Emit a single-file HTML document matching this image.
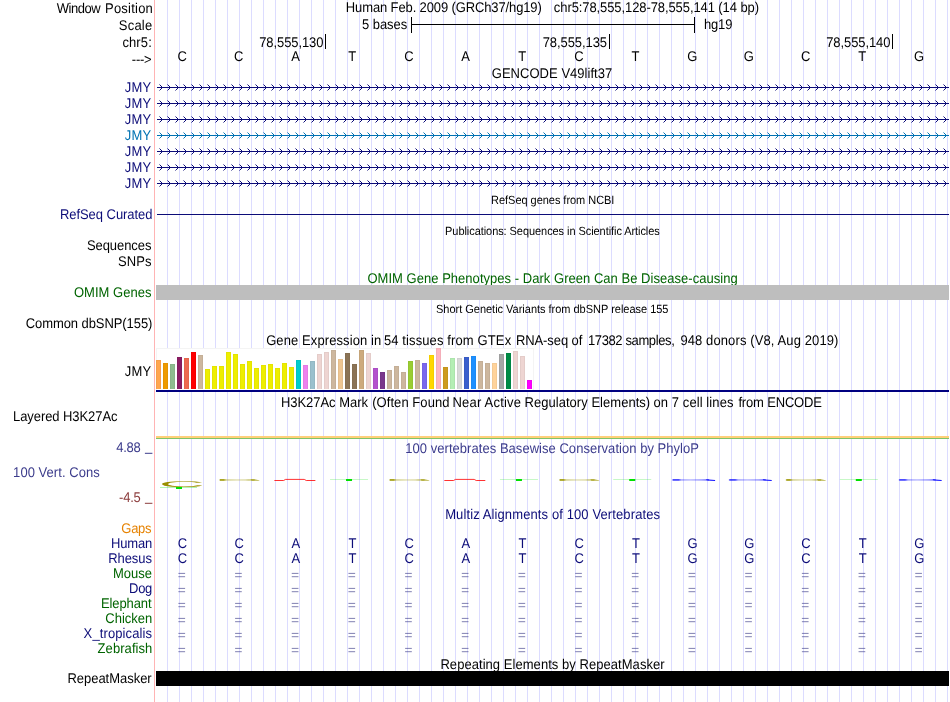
<!DOCTYPE html>
<html><head><meta charset="utf-8"><title>UCSC Genome Browser</title>
<style>html,body{margin:0;padding:0;background:#fff;overflow:hidden}body{width:950px;height:702px;position:relative;font-family:"Liberation Sans",sans-serif}</style></head>
<body>
<svg width="950" height="702" viewBox="0 0 950 702" font-family="'Liberation Sans', sans-serif" text-rendering="geometricPrecision" style="position:absolute;left:0;top:0;display:block;will-change:transform">
<rect x="0" y="0" width="950" height="702" fill="#fff"/>
<g shape-rendering="crispEdges">
<rect x="167" y="0" width="1" height="702" fill="#dcdcff"/>
<rect x="179" y="0" width="1" height="702" fill="#dcdcff"/>
<rect x="191" y="0" width="1" height="702" fill="#dcdcff"/>
<rect x="203" y="0" width="1" height="702" fill="#dcdcff"/>
<rect x="215" y="0" width="1" height="702" fill="#dcdcff"/>
<rect x="227" y="0" width="1" height="702" fill="#dcdcff"/>
<rect x="239" y="0" width="1" height="702" fill="#dcdcff"/>
<rect x="251" y="0" width="1" height="702" fill="#dcdcff"/>
<rect x="263" y="0" width="1" height="702" fill="#dcdcff"/>
<rect x="275" y="0" width="1" height="702" fill="#dcdcff"/>
<rect x="287" y="0" width="1" height="702" fill="#dcdcff"/>
<rect x="299" y="0" width="1" height="702" fill="#dcdcff"/>
<rect x="311" y="0" width="1" height="702" fill="#dcdcff"/>
<rect x="323" y="0" width="1" height="702" fill="#dcdcff"/>
<rect x="335" y="0" width="1" height="702" fill="#dcdcff"/>
<rect x="347" y="0" width="1" height="702" fill="#dcdcff"/>
<rect x="359" y="0" width="1" height="702" fill="#dcdcff"/>
<rect x="371" y="0" width="1" height="702" fill="#dcdcff"/>
<rect x="383" y="0" width="1" height="702" fill="#dcdcff"/>
<rect x="395" y="0" width="1" height="702" fill="#dcdcff"/>
<rect x="407" y="0" width="1" height="702" fill="#dcdcff"/>
<rect x="419" y="0" width="1" height="702" fill="#dcdcff"/>
<rect x="431" y="0" width="1" height="702" fill="#dcdcff"/>
<rect x="443" y="0" width="1" height="702" fill="#dcdcff"/>
<rect x="455" y="0" width="1" height="702" fill="#dcdcff"/>
<rect x="467" y="0" width="1" height="702" fill="#dcdcff"/>
<rect x="479" y="0" width="1" height="702" fill="#dcdcff"/>
<rect x="491" y="0" width="1" height="702" fill="#dcdcff"/>
<rect x="503" y="0" width="1" height="702" fill="#dcdcff"/>
<rect x="515" y="0" width="1" height="702" fill="#dcdcff"/>
<rect x="527" y="0" width="1" height="702" fill="#dcdcff"/>
<rect x="539" y="0" width="1" height="702" fill="#dcdcff"/>
<rect x="551" y="0" width="1" height="702" fill="#dcdcff"/>
<rect x="563" y="0" width="1" height="702" fill="#dcdcff"/>
<rect x="575" y="0" width="1" height="702" fill="#dcdcff"/>
<rect x="587" y="0" width="1" height="702" fill="#dcdcff"/>
<rect x="599" y="0" width="1" height="702" fill="#dcdcff"/>
<rect x="611" y="0" width="1" height="702" fill="#dcdcff"/>
<rect x="623" y="0" width="1" height="702" fill="#dcdcff"/>
<rect x="635" y="0" width="1" height="702" fill="#dcdcff"/>
<rect x="647" y="0" width="1" height="702" fill="#dcdcff"/>
<rect x="659" y="0" width="1" height="702" fill="#dcdcff"/>
<rect x="671" y="0" width="1" height="702" fill="#dcdcff"/>
<rect x="683" y="0" width="1" height="702" fill="#dcdcff"/>
<rect x="695" y="0" width="1" height="702" fill="#dcdcff"/>
<rect x="707" y="0" width="1" height="702" fill="#dcdcff"/>
<rect x="719" y="0" width="1" height="702" fill="#dcdcff"/>
<rect x="731" y="0" width="1" height="702" fill="#dcdcff"/>
<rect x="743" y="0" width="1" height="702" fill="#dcdcff"/>
<rect x="755" y="0" width="1" height="702" fill="#dcdcff"/>
<rect x="767" y="0" width="1" height="702" fill="#dcdcff"/>
<rect x="779" y="0" width="1" height="702" fill="#dcdcff"/>
<rect x="791" y="0" width="1" height="702" fill="#dcdcff"/>
<rect x="803" y="0" width="1" height="702" fill="#dcdcff"/>
<rect x="815" y="0" width="1" height="702" fill="#dcdcff"/>
<rect x="827" y="0" width="1" height="702" fill="#dcdcff"/>
<rect x="839" y="0" width="1" height="702" fill="#dcdcff"/>
<rect x="851" y="0" width="1" height="702" fill="#dcdcff"/>
<rect x="863" y="0" width="1" height="702" fill="#dcdcff"/>
<rect x="875" y="0" width="1" height="702" fill="#dcdcff"/>
<rect x="887" y="0" width="1" height="702" fill="#dcdcff"/>
<rect x="899" y="0" width="1" height="702" fill="#dcdcff"/>
<rect x="911" y="0" width="1" height="702" fill="#dcdcff"/>
<rect x="923" y="0" width="1" height="702" fill="#dcdcff"/>
<rect x="935" y="0" width="1" height="702" fill="#dcdcff"/>
<rect x="947" y="0" width="1" height="702" fill="#dcdcff"/>
<rect x="154" y="0" width="1" height="702" fill="#ffb4b4"/>
</g>
<text transform="translate(56.64,13) scale(1,1.08)" font-size="13" fill="#000" textLength="44.03" lengthAdjust="spacing" xml:space="preserve">Window</text>
<text transform="translate(105.03,13) scale(1,1.08)" font-size="13" fill="#000" textLength="47.81" lengthAdjust="spacing" xml:space="preserve">Position</text>
<text transform="translate(118.81,30) scale(1,1.08)" font-size="13" fill="#000" textLength="33.37" lengthAdjust="spacing" xml:space="preserve">Scale</text>
<text transform="translate(122.45,47) scale(1,1.08)" font-size="13" fill="#000" textLength="29.34" lengthAdjust="spacing" xml:space="preserve">chr5:</text>
<text transform="translate(131.82,64) scale(1,1.08)" font-size="13" fill="#000" textLength="19.81" lengthAdjust="spacing" xml:space="preserve">---&gt;</text>
<text transform="translate(345.83,12) scale(1,1.08)" font-size="13" fill="#000" textLength="195.97" lengthAdjust="spacing" xml:space="preserve">Human Feb. 2009 (GRCh37/hg19)</text>
<text transform="translate(553.85,12) scale(1,1.08)" font-size="13" fill="#000" textLength="205.16" lengthAdjust="spacing" xml:space="preserve">chr5:78,555,128-78,555,141 (14 bp)</text>
<text transform="translate(361.98,29) scale(1,1.08)" font-size="13" fill="#000" textLength="45.19" lengthAdjust="spacing" xml:space="preserve">5 bases</text>
<text transform="translate(704.00,29) scale(1,1.08)" font-size="13" fill="#000" textLength="28.42" lengthAdjust="spacing" xml:space="preserve">hg19</text>
<g shape-rendering="crispEdges" fill="#000">
<rect x="411" y="17" width="1" height="16" fill="#000"/>
<rect x="694" y="17" width="1" height="16" fill="#000"/>
<rect x="411" y="24" width="284" height="1" fill="#000"/>
<rect x="325" y="34" width="1" height="15" fill="#000"/>
<rect x="609" y="34" width="1" height="15" fill="#000"/>
<rect x="892" y="34" width="1" height="15" fill="#000"/>
</g>
<text transform="translate(259.23,47) scale(1,1.08)" font-size="13" fill="#000" textLength="64.27" lengthAdjust="spacing" xml:space="preserve">78,555,130</text>
<text transform="translate(542.73,47) scale(1,1.08)" font-size="13" fill="#000" textLength="64.31" lengthAdjust="spacing" xml:space="preserve">78,555,135</text>
<text transform="translate(826.23,47) scale(1,1.08)" font-size="13" fill="#000" textLength="64.27" lengthAdjust="spacing" xml:space="preserve">78,555,140</text>
<text transform="translate(182.10,61) scale(1,1.08)" font-size="13" fill="#000" text-anchor="middle">C</text>
<text transform="translate(238.78,61) scale(1,1.08)" font-size="13" fill="#000" text-anchor="middle">C</text>
<text transform="translate(295.46,61) scale(1,1.08)" font-size="13" fill="#000" text-anchor="middle">A</text>
<text transform="translate(352.14,61) scale(1,1.08)" font-size="13" fill="#000" text-anchor="middle">T</text>
<text transform="translate(408.82,61) scale(1,1.08)" font-size="13" fill="#000" text-anchor="middle">C</text>
<text transform="translate(465.50,61) scale(1,1.08)" font-size="13" fill="#000" text-anchor="middle">A</text>
<text transform="translate(522.18,61) scale(1,1.08)" font-size="13" fill="#000" text-anchor="middle">T</text>
<text transform="translate(578.86,61) scale(1,1.08)" font-size="13" fill="#000" text-anchor="middle">C</text>
<text transform="translate(635.54,61) scale(1,1.08)" font-size="13" fill="#000" text-anchor="middle">T</text>
<text transform="translate(692.22,61) scale(1,1.08)" font-size="13" fill="#000" text-anchor="middle">G</text>
<text transform="translate(748.90,61) scale(1,1.08)" font-size="13" fill="#000" text-anchor="middle">G</text>
<text transform="translate(805.58,61) scale(1,1.08)" font-size="13" fill="#000" text-anchor="middle">C</text>
<text transform="translate(862.26,61) scale(1,1.08)" font-size="13" fill="#000" text-anchor="middle">T</text>
<text transform="translate(918.94,61) scale(1,1.08)" font-size="13" fill="#000" text-anchor="middle">G</text>
<text transform="translate(491.75,78) scale(1,1.08)" font-size="13" fill="#000" textLength="120.51" lengthAdjust="spacing" xml:space="preserve">GENCODE V49lift37</text>
<text transform="translate(124.80,92) scale(1,1.08)" font-size="13" fill="#0c0c78" textLength="26.49" lengthAdjust="spacing" xml:space="preserve">JMY</text>
<rect x="157" y="87" width="792" height="1" fill="#0c0c78" shape-rendering="crispEdges"/>
<path d="M159.5 84.5L162.5 87.5L159.5 90.5M167.5 84.5L170.5 87.5L167.5 90.5M175.5 84.5L178.5 87.5L175.5 90.5M183.5 84.5L186.5 87.5L183.5 90.5M191.5 84.5L194.5 87.5L191.5 90.5M199.5 84.5L202.5 87.5L199.5 90.5M207.5 84.5L210.5 87.5L207.5 90.5M215.5 84.5L218.5 87.5L215.5 90.5M223.5 84.5L226.5 87.5L223.5 90.5M231.5 84.5L234.5 87.5L231.5 90.5M239.5 84.5L242.5 87.5L239.5 90.5M247.5 84.5L250.5 87.5L247.5 90.5M255.5 84.5L258.5 87.5L255.5 90.5M263.5 84.5L266.5 87.5L263.5 90.5M271.5 84.5L274.5 87.5L271.5 90.5M279.5 84.5L282.5 87.5L279.5 90.5M287.5 84.5L290.5 87.5L287.5 90.5M295.5 84.5L298.5 87.5L295.5 90.5M303.5 84.5L306.5 87.5L303.5 90.5M311.5 84.5L314.5 87.5L311.5 90.5M319.5 84.5L322.5 87.5L319.5 90.5M327.5 84.5L330.5 87.5L327.5 90.5M335.5 84.5L338.5 87.5L335.5 90.5M343.5 84.5L346.5 87.5L343.5 90.5M351.5 84.5L354.5 87.5L351.5 90.5M359.5 84.5L362.5 87.5L359.5 90.5M367.5 84.5L370.5 87.5L367.5 90.5M375.5 84.5L378.5 87.5L375.5 90.5M383.5 84.5L386.5 87.5L383.5 90.5M391.5 84.5L394.5 87.5L391.5 90.5M399.5 84.5L402.5 87.5L399.5 90.5M407.5 84.5L410.5 87.5L407.5 90.5M415.5 84.5L418.5 87.5L415.5 90.5M423.5 84.5L426.5 87.5L423.5 90.5M431.5 84.5L434.5 87.5L431.5 90.5M439.5 84.5L442.5 87.5L439.5 90.5M447.5 84.5L450.5 87.5L447.5 90.5M455.5 84.5L458.5 87.5L455.5 90.5M463.5 84.5L466.5 87.5L463.5 90.5M471.5 84.5L474.5 87.5L471.5 90.5M479.5 84.5L482.5 87.5L479.5 90.5M487.5 84.5L490.5 87.5L487.5 90.5M495.5 84.5L498.5 87.5L495.5 90.5M503.5 84.5L506.5 87.5L503.5 90.5M511.5 84.5L514.5 87.5L511.5 90.5M519.5 84.5L522.5 87.5L519.5 90.5M527.5 84.5L530.5 87.5L527.5 90.5M535.5 84.5L538.5 87.5L535.5 90.5M543.5 84.5L546.5 87.5L543.5 90.5M551.5 84.5L554.5 87.5L551.5 90.5M559.5 84.5L562.5 87.5L559.5 90.5M567.5 84.5L570.5 87.5L567.5 90.5M575.5 84.5L578.5 87.5L575.5 90.5M583.5 84.5L586.5 87.5L583.5 90.5M591.5 84.5L594.5 87.5L591.5 90.5M599.5 84.5L602.5 87.5L599.5 90.5M607.5 84.5L610.5 87.5L607.5 90.5M615.5 84.5L618.5 87.5L615.5 90.5M623.5 84.5L626.5 87.5L623.5 90.5M631.5 84.5L634.5 87.5L631.5 90.5M639.5 84.5L642.5 87.5L639.5 90.5M647.5 84.5L650.5 87.5L647.5 90.5M655.5 84.5L658.5 87.5L655.5 90.5M663.5 84.5L666.5 87.5L663.5 90.5M671.5 84.5L674.5 87.5L671.5 90.5M679.5 84.5L682.5 87.5L679.5 90.5M687.5 84.5L690.5 87.5L687.5 90.5M695.5 84.5L698.5 87.5L695.5 90.5M703.5 84.5L706.5 87.5L703.5 90.5M711.5 84.5L714.5 87.5L711.5 90.5M719.5 84.5L722.5 87.5L719.5 90.5M727.5 84.5L730.5 87.5L727.5 90.5M735.5 84.5L738.5 87.5L735.5 90.5M743.5 84.5L746.5 87.5L743.5 90.5M751.5 84.5L754.5 87.5L751.5 90.5M759.5 84.5L762.5 87.5L759.5 90.5M767.5 84.5L770.5 87.5L767.5 90.5M775.5 84.5L778.5 87.5L775.5 90.5M783.5 84.5L786.5 87.5L783.5 90.5M791.5 84.5L794.5 87.5L791.5 90.5M799.5 84.5L802.5 87.5L799.5 90.5M807.5 84.5L810.5 87.5L807.5 90.5M815.5 84.5L818.5 87.5L815.5 90.5M823.5 84.5L826.5 87.5L823.5 90.5M831.5 84.5L834.5 87.5L831.5 90.5M839.5 84.5L842.5 87.5L839.5 90.5M847.5 84.5L850.5 87.5L847.5 90.5M855.5 84.5L858.5 87.5L855.5 90.5M863.5 84.5L866.5 87.5L863.5 90.5M871.5 84.5L874.5 87.5L871.5 90.5M879.5 84.5L882.5 87.5L879.5 90.5M887.5 84.5L890.5 87.5L887.5 90.5M895.5 84.5L898.5 87.5L895.5 90.5M903.5 84.5L906.5 87.5L903.5 90.5M911.5 84.5L914.5 87.5L911.5 90.5M919.5 84.5L922.5 87.5L919.5 90.5M927.5 84.5L930.5 87.5L927.5 90.5M935.5 84.5L938.5 87.5L935.5 90.5M943.5 84.5L946.5 87.5L943.5 90.5" stroke="#0c0c78" stroke-width="1" fill="none"/>
<text transform="translate(124.80,108) scale(1,1.08)" font-size="13" fill="#0c0c78" textLength="26.49" lengthAdjust="spacing" xml:space="preserve">JMY</text>
<rect x="157" y="103" width="792" height="1" fill="#0c0c78" shape-rendering="crispEdges"/>
<path d="M159.5 100.5L162.5 103.5L159.5 106.5M167.5 100.5L170.5 103.5L167.5 106.5M175.5 100.5L178.5 103.5L175.5 106.5M183.5 100.5L186.5 103.5L183.5 106.5M191.5 100.5L194.5 103.5L191.5 106.5M199.5 100.5L202.5 103.5L199.5 106.5M207.5 100.5L210.5 103.5L207.5 106.5M215.5 100.5L218.5 103.5L215.5 106.5M223.5 100.5L226.5 103.5L223.5 106.5M231.5 100.5L234.5 103.5L231.5 106.5M239.5 100.5L242.5 103.5L239.5 106.5M247.5 100.5L250.5 103.5L247.5 106.5M255.5 100.5L258.5 103.5L255.5 106.5M263.5 100.5L266.5 103.5L263.5 106.5M271.5 100.5L274.5 103.5L271.5 106.5M279.5 100.5L282.5 103.5L279.5 106.5M287.5 100.5L290.5 103.5L287.5 106.5M295.5 100.5L298.5 103.5L295.5 106.5M303.5 100.5L306.5 103.5L303.5 106.5M311.5 100.5L314.5 103.5L311.5 106.5M319.5 100.5L322.5 103.5L319.5 106.5M327.5 100.5L330.5 103.5L327.5 106.5M335.5 100.5L338.5 103.5L335.5 106.5M343.5 100.5L346.5 103.5L343.5 106.5M351.5 100.5L354.5 103.5L351.5 106.5M359.5 100.5L362.5 103.5L359.5 106.5M367.5 100.5L370.5 103.5L367.5 106.5M375.5 100.5L378.5 103.5L375.5 106.5M383.5 100.5L386.5 103.5L383.5 106.5M391.5 100.5L394.5 103.5L391.5 106.5M399.5 100.5L402.5 103.5L399.5 106.5M407.5 100.5L410.5 103.5L407.5 106.5M415.5 100.5L418.5 103.5L415.5 106.5M423.5 100.5L426.5 103.5L423.5 106.5M431.5 100.5L434.5 103.5L431.5 106.5M439.5 100.5L442.5 103.5L439.5 106.5M447.5 100.5L450.5 103.5L447.5 106.5M455.5 100.5L458.5 103.5L455.5 106.5M463.5 100.5L466.5 103.5L463.5 106.5M471.5 100.5L474.5 103.5L471.5 106.5M479.5 100.5L482.5 103.5L479.5 106.5M487.5 100.5L490.5 103.5L487.5 106.5M495.5 100.5L498.5 103.5L495.5 106.5M503.5 100.5L506.5 103.5L503.5 106.5M511.5 100.5L514.5 103.5L511.5 106.5M519.5 100.5L522.5 103.5L519.5 106.5M527.5 100.5L530.5 103.5L527.5 106.5M535.5 100.5L538.5 103.5L535.5 106.5M543.5 100.5L546.5 103.5L543.5 106.5M551.5 100.5L554.5 103.5L551.5 106.5M559.5 100.5L562.5 103.5L559.5 106.5M567.5 100.5L570.5 103.5L567.5 106.5M575.5 100.5L578.5 103.5L575.5 106.5M583.5 100.5L586.5 103.5L583.5 106.5M591.5 100.5L594.5 103.5L591.5 106.5M599.5 100.5L602.5 103.5L599.5 106.5M607.5 100.5L610.5 103.5L607.5 106.5M615.5 100.5L618.5 103.5L615.5 106.5M623.5 100.5L626.5 103.5L623.5 106.5M631.5 100.5L634.5 103.5L631.5 106.5M639.5 100.5L642.5 103.5L639.5 106.5M647.5 100.5L650.5 103.5L647.5 106.5M655.5 100.5L658.5 103.5L655.5 106.5M663.5 100.5L666.5 103.5L663.5 106.5M671.5 100.5L674.5 103.5L671.5 106.5M679.5 100.5L682.5 103.5L679.5 106.5M687.5 100.5L690.5 103.5L687.5 106.5M695.5 100.5L698.5 103.5L695.5 106.5M703.5 100.5L706.5 103.5L703.5 106.5M711.5 100.5L714.5 103.5L711.5 106.5M719.5 100.5L722.5 103.5L719.5 106.5M727.5 100.5L730.5 103.5L727.5 106.5M735.5 100.5L738.5 103.5L735.5 106.5M743.5 100.5L746.5 103.5L743.5 106.5M751.5 100.5L754.5 103.5L751.5 106.5M759.5 100.5L762.5 103.5L759.5 106.5M767.5 100.5L770.5 103.5L767.5 106.5M775.5 100.5L778.5 103.5L775.5 106.5M783.5 100.5L786.5 103.5L783.5 106.5M791.5 100.5L794.5 103.5L791.5 106.5M799.5 100.5L802.5 103.5L799.5 106.5M807.5 100.5L810.5 103.5L807.5 106.5M815.5 100.5L818.5 103.5L815.5 106.5M823.5 100.5L826.5 103.5L823.5 106.5M831.5 100.5L834.5 103.5L831.5 106.5M839.5 100.5L842.5 103.5L839.5 106.5M847.5 100.5L850.5 103.5L847.5 106.5M855.5 100.5L858.5 103.5L855.5 106.5M863.5 100.5L866.5 103.5L863.5 106.5M871.5 100.5L874.5 103.5L871.5 106.5M879.5 100.5L882.5 103.5L879.5 106.5M887.5 100.5L890.5 103.5L887.5 106.5M895.5 100.5L898.5 103.5L895.5 106.5M903.5 100.5L906.5 103.5L903.5 106.5M911.5 100.5L914.5 103.5L911.5 106.5M919.5 100.5L922.5 103.5L919.5 106.5M927.5 100.5L930.5 103.5L927.5 106.5M935.5 100.5L938.5 103.5L935.5 106.5M943.5 100.5L946.5 103.5L943.5 106.5" stroke="#0c0c78" stroke-width="1" fill="none"/>
<text transform="translate(124.80,124) scale(1,1.08)" font-size="13" fill="#0c0c78" textLength="26.49" lengthAdjust="spacing" xml:space="preserve">JMY</text>
<rect x="157" y="119" width="792" height="1" fill="#0c0c78" shape-rendering="crispEdges"/>
<path d="M159.5 116.5L162.5 119.5L159.5 122.5M167.5 116.5L170.5 119.5L167.5 122.5M175.5 116.5L178.5 119.5L175.5 122.5M183.5 116.5L186.5 119.5L183.5 122.5M191.5 116.5L194.5 119.5L191.5 122.5M199.5 116.5L202.5 119.5L199.5 122.5M207.5 116.5L210.5 119.5L207.5 122.5M215.5 116.5L218.5 119.5L215.5 122.5M223.5 116.5L226.5 119.5L223.5 122.5M231.5 116.5L234.5 119.5L231.5 122.5M239.5 116.5L242.5 119.5L239.5 122.5M247.5 116.5L250.5 119.5L247.5 122.5M255.5 116.5L258.5 119.5L255.5 122.5M263.5 116.5L266.5 119.5L263.5 122.5M271.5 116.5L274.5 119.5L271.5 122.5M279.5 116.5L282.5 119.5L279.5 122.5M287.5 116.5L290.5 119.5L287.5 122.5M295.5 116.5L298.5 119.5L295.5 122.5M303.5 116.5L306.5 119.5L303.5 122.5M311.5 116.5L314.5 119.5L311.5 122.5M319.5 116.5L322.5 119.5L319.5 122.5M327.5 116.5L330.5 119.5L327.5 122.5M335.5 116.5L338.5 119.5L335.5 122.5M343.5 116.5L346.5 119.5L343.5 122.5M351.5 116.5L354.5 119.5L351.5 122.5M359.5 116.5L362.5 119.5L359.5 122.5M367.5 116.5L370.5 119.5L367.5 122.5M375.5 116.5L378.5 119.5L375.5 122.5M383.5 116.5L386.5 119.5L383.5 122.5M391.5 116.5L394.5 119.5L391.5 122.5M399.5 116.5L402.5 119.5L399.5 122.5M407.5 116.5L410.5 119.5L407.5 122.5M415.5 116.5L418.5 119.5L415.5 122.5M423.5 116.5L426.5 119.5L423.5 122.5M431.5 116.5L434.5 119.5L431.5 122.5M439.5 116.5L442.5 119.5L439.5 122.5M447.5 116.5L450.5 119.5L447.5 122.5M455.5 116.5L458.5 119.5L455.5 122.5M463.5 116.5L466.5 119.5L463.5 122.5M471.5 116.5L474.5 119.5L471.5 122.5M479.5 116.5L482.5 119.5L479.5 122.5M487.5 116.5L490.5 119.5L487.5 122.5M495.5 116.5L498.5 119.5L495.5 122.5M503.5 116.5L506.5 119.5L503.5 122.5M511.5 116.5L514.5 119.5L511.5 122.5M519.5 116.5L522.5 119.5L519.5 122.5M527.5 116.5L530.5 119.5L527.5 122.5M535.5 116.5L538.5 119.5L535.5 122.5M543.5 116.5L546.5 119.5L543.5 122.5M551.5 116.5L554.5 119.5L551.5 122.5M559.5 116.5L562.5 119.5L559.5 122.5M567.5 116.5L570.5 119.5L567.5 122.5M575.5 116.5L578.5 119.5L575.5 122.5M583.5 116.5L586.5 119.5L583.5 122.5M591.5 116.5L594.5 119.5L591.5 122.5M599.5 116.5L602.5 119.5L599.5 122.5M607.5 116.5L610.5 119.5L607.5 122.5M615.5 116.5L618.5 119.5L615.5 122.5M623.5 116.5L626.5 119.5L623.5 122.5M631.5 116.5L634.5 119.5L631.5 122.5M639.5 116.5L642.5 119.5L639.5 122.5M647.5 116.5L650.5 119.5L647.5 122.5M655.5 116.5L658.5 119.5L655.5 122.5M663.5 116.5L666.5 119.5L663.5 122.5M671.5 116.5L674.5 119.5L671.5 122.5M679.5 116.5L682.5 119.5L679.5 122.5M687.5 116.5L690.5 119.5L687.5 122.5M695.5 116.5L698.5 119.5L695.5 122.5M703.5 116.5L706.5 119.5L703.5 122.5M711.5 116.5L714.5 119.5L711.5 122.5M719.5 116.5L722.5 119.5L719.5 122.5M727.5 116.5L730.5 119.5L727.5 122.5M735.5 116.5L738.5 119.5L735.5 122.5M743.5 116.5L746.5 119.5L743.5 122.5M751.5 116.5L754.5 119.5L751.5 122.5M759.5 116.5L762.5 119.5L759.5 122.5M767.5 116.5L770.5 119.5L767.5 122.5M775.5 116.5L778.5 119.5L775.5 122.5M783.5 116.5L786.5 119.5L783.5 122.5M791.5 116.5L794.5 119.5L791.5 122.5M799.5 116.5L802.5 119.5L799.5 122.5M807.5 116.5L810.5 119.5L807.5 122.5M815.5 116.5L818.5 119.5L815.5 122.5M823.5 116.5L826.5 119.5L823.5 122.5M831.5 116.5L834.5 119.5L831.5 122.5M839.5 116.5L842.5 119.5L839.5 122.5M847.5 116.5L850.5 119.5L847.5 122.5M855.5 116.5L858.5 119.5L855.5 122.5M863.5 116.5L866.5 119.5L863.5 122.5M871.5 116.5L874.5 119.5L871.5 122.5M879.5 116.5L882.5 119.5L879.5 122.5M887.5 116.5L890.5 119.5L887.5 122.5M895.5 116.5L898.5 119.5L895.5 122.5M903.5 116.5L906.5 119.5L903.5 122.5M911.5 116.5L914.5 119.5L911.5 122.5M919.5 116.5L922.5 119.5L919.5 122.5M927.5 116.5L930.5 119.5L927.5 122.5M935.5 116.5L938.5 119.5L935.5 122.5M943.5 116.5L946.5 119.5L943.5 122.5" stroke="#0c0c78" stroke-width="1" fill="none"/>
<text transform="translate(124.80,140) scale(1,1.08)" font-size="13" fill="#0072b2" textLength="26.49" lengthAdjust="spacing" xml:space="preserve">JMY</text>
<rect x="157" y="135" width="792" height="1" fill="#0072b2" shape-rendering="crispEdges"/>
<path d="M159.5 132.5L162.5 135.5L159.5 138.5M167.5 132.5L170.5 135.5L167.5 138.5M175.5 132.5L178.5 135.5L175.5 138.5M183.5 132.5L186.5 135.5L183.5 138.5M191.5 132.5L194.5 135.5L191.5 138.5M199.5 132.5L202.5 135.5L199.5 138.5M207.5 132.5L210.5 135.5L207.5 138.5M215.5 132.5L218.5 135.5L215.5 138.5M223.5 132.5L226.5 135.5L223.5 138.5M231.5 132.5L234.5 135.5L231.5 138.5M239.5 132.5L242.5 135.5L239.5 138.5M247.5 132.5L250.5 135.5L247.5 138.5M255.5 132.5L258.5 135.5L255.5 138.5M263.5 132.5L266.5 135.5L263.5 138.5M271.5 132.5L274.5 135.5L271.5 138.5M279.5 132.5L282.5 135.5L279.5 138.5M287.5 132.5L290.5 135.5L287.5 138.5M295.5 132.5L298.5 135.5L295.5 138.5M303.5 132.5L306.5 135.5L303.5 138.5M311.5 132.5L314.5 135.5L311.5 138.5M319.5 132.5L322.5 135.5L319.5 138.5M327.5 132.5L330.5 135.5L327.5 138.5M335.5 132.5L338.5 135.5L335.5 138.5M343.5 132.5L346.5 135.5L343.5 138.5M351.5 132.5L354.5 135.5L351.5 138.5M359.5 132.5L362.5 135.5L359.5 138.5M367.5 132.5L370.5 135.5L367.5 138.5M375.5 132.5L378.5 135.5L375.5 138.5M383.5 132.5L386.5 135.5L383.5 138.5M391.5 132.5L394.5 135.5L391.5 138.5M399.5 132.5L402.5 135.5L399.5 138.5M407.5 132.5L410.5 135.5L407.5 138.5M415.5 132.5L418.5 135.5L415.5 138.5M423.5 132.5L426.5 135.5L423.5 138.5M431.5 132.5L434.5 135.5L431.5 138.5M439.5 132.5L442.5 135.5L439.5 138.5M447.5 132.5L450.5 135.5L447.5 138.5M455.5 132.5L458.5 135.5L455.5 138.5M463.5 132.5L466.5 135.5L463.5 138.5M471.5 132.5L474.5 135.5L471.5 138.5M479.5 132.5L482.5 135.5L479.5 138.5M487.5 132.5L490.5 135.5L487.5 138.5M495.5 132.5L498.5 135.5L495.5 138.5M503.5 132.5L506.5 135.5L503.5 138.5M511.5 132.5L514.5 135.5L511.5 138.5M519.5 132.5L522.5 135.5L519.5 138.5M527.5 132.5L530.5 135.5L527.5 138.5M535.5 132.5L538.5 135.5L535.5 138.5M543.5 132.5L546.5 135.5L543.5 138.5M551.5 132.5L554.5 135.5L551.5 138.5M559.5 132.5L562.5 135.5L559.5 138.5M567.5 132.5L570.5 135.5L567.5 138.5M575.5 132.5L578.5 135.5L575.5 138.5M583.5 132.5L586.5 135.5L583.5 138.5M591.5 132.5L594.5 135.5L591.5 138.5M599.5 132.5L602.5 135.5L599.5 138.5M607.5 132.5L610.5 135.5L607.5 138.5M615.5 132.5L618.5 135.5L615.5 138.5M623.5 132.5L626.5 135.5L623.5 138.5M631.5 132.5L634.5 135.5L631.5 138.5M639.5 132.5L642.5 135.5L639.5 138.5M647.5 132.5L650.5 135.5L647.5 138.5M655.5 132.5L658.5 135.5L655.5 138.5M663.5 132.5L666.5 135.5L663.5 138.5M671.5 132.5L674.5 135.5L671.5 138.5M679.5 132.5L682.5 135.5L679.5 138.5M687.5 132.5L690.5 135.5L687.5 138.5M695.5 132.5L698.5 135.5L695.5 138.5M703.5 132.5L706.5 135.5L703.5 138.5M711.5 132.5L714.5 135.5L711.5 138.5M719.5 132.5L722.5 135.5L719.5 138.5M727.5 132.5L730.5 135.5L727.5 138.5M735.5 132.5L738.5 135.5L735.5 138.5M743.5 132.5L746.5 135.5L743.5 138.5M751.5 132.5L754.5 135.5L751.5 138.5M759.5 132.5L762.5 135.5L759.5 138.5M767.5 132.5L770.5 135.5L767.5 138.5M775.5 132.5L778.5 135.5L775.5 138.5M783.5 132.5L786.5 135.5L783.5 138.5M791.5 132.5L794.5 135.5L791.5 138.5M799.5 132.5L802.5 135.5L799.5 138.5M807.5 132.5L810.5 135.5L807.5 138.5M815.5 132.5L818.5 135.5L815.5 138.5M823.5 132.5L826.5 135.5L823.5 138.5M831.5 132.5L834.5 135.5L831.5 138.5M839.5 132.5L842.5 135.5L839.5 138.5M847.5 132.5L850.5 135.5L847.5 138.5M855.5 132.5L858.5 135.5L855.5 138.5M863.5 132.5L866.5 135.5L863.5 138.5M871.5 132.5L874.5 135.5L871.5 138.5M879.5 132.5L882.5 135.5L879.5 138.5M887.5 132.5L890.5 135.5L887.5 138.5M895.5 132.5L898.5 135.5L895.5 138.5M903.5 132.5L906.5 135.5L903.5 138.5M911.5 132.5L914.5 135.5L911.5 138.5M919.5 132.5L922.5 135.5L919.5 138.5M927.5 132.5L930.5 135.5L927.5 138.5M935.5 132.5L938.5 135.5L935.5 138.5M943.5 132.5L946.5 135.5L943.5 138.5" stroke="#0072b2" stroke-width="1" fill="none"/>
<text transform="translate(124.80,156) scale(1,1.08)" font-size="13" fill="#0c0c78" textLength="26.49" lengthAdjust="spacing" xml:space="preserve">JMY</text>
<rect x="157" y="151" width="792" height="1" fill="#0c0c78" shape-rendering="crispEdges"/>
<path d="M159.5 148.5L162.5 151.5L159.5 154.5M167.5 148.5L170.5 151.5L167.5 154.5M175.5 148.5L178.5 151.5L175.5 154.5M183.5 148.5L186.5 151.5L183.5 154.5M191.5 148.5L194.5 151.5L191.5 154.5M199.5 148.5L202.5 151.5L199.5 154.5M207.5 148.5L210.5 151.5L207.5 154.5M215.5 148.5L218.5 151.5L215.5 154.5M223.5 148.5L226.5 151.5L223.5 154.5M231.5 148.5L234.5 151.5L231.5 154.5M239.5 148.5L242.5 151.5L239.5 154.5M247.5 148.5L250.5 151.5L247.5 154.5M255.5 148.5L258.5 151.5L255.5 154.5M263.5 148.5L266.5 151.5L263.5 154.5M271.5 148.5L274.5 151.5L271.5 154.5M279.5 148.5L282.5 151.5L279.5 154.5M287.5 148.5L290.5 151.5L287.5 154.5M295.5 148.5L298.5 151.5L295.5 154.5M303.5 148.5L306.5 151.5L303.5 154.5M311.5 148.5L314.5 151.5L311.5 154.5M319.5 148.5L322.5 151.5L319.5 154.5M327.5 148.5L330.5 151.5L327.5 154.5M335.5 148.5L338.5 151.5L335.5 154.5M343.5 148.5L346.5 151.5L343.5 154.5M351.5 148.5L354.5 151.5L351.5 154.5M359.5 148.5L362.5 151.5L359.5 154.5M367.5 148.5L370.5 151.5L367.5 154.5M375.5 148.5L378.5 151.5L375.5 154.5M383.5 148.5L386.5 151.5L383.5 154.5M391.5 148.5L394.5 151.5L391.5 154.5M399.5 148.5L402.5 151.5L399.5 154.5M407.5 148.5L410.5 151.5L407.5 154.5M415.5 148.5L418.5 151.5L415.5 154.5M423.5 148.5L426.5 151.5L423.5 154.5M431.5 148.5L434.5 151.5L431.5 154.5M439.5 148.5L442.5 151.5L439.5 154.5M447.5 148.5L450.5 151.5L447.5 154.5M455.5 148.5L458.5 151.5L455.5 154.5M463.5 148.5L466.5 151.5L463.5 154.5M471.5 148.5L474.5 151.5L471.5 154.5M479.5 148.5L482.5 151.5L479.5 154.5M487.5 148.5L490.5 151.5L487.5 154.5M495.5 148.5L498.5 151.5L495.5 154.5M503.5 148.5L506.5 151.5L503.5 154.5M511.5 148.5L514.5 151.5L511.5 154.5M519.5 148.5L522.5 151.5L519.5 154.5M527.5 148.5L530.5 151.5L527.5 154.5M535.5 148.5L538.5 151.5L535.5 154.5M543.5 148.5L546.5 151.5L543.5 154.5M551.5 148.5L554.5 151.5L551.5 154.5M559.5 148.5L562.5 151.5L559.5 154.5M567.5 148.5L570.5 151.5L567.5 154.5M575.5 148.5L578.5 151.5L575.5 154.5M583.5 148.5L586.5 151.5L583.5 154.5M591.5 148.5L594.5 151.5L591.5 154.5M599.5 148.5L602.5 151.5L599.5 154.5M607.5 148.5L610.5 151.5L607.5 154.5M615.5 148.5L618.5 151.5L615.5 154.5M623.5 148.5L626.5 151.5L623.5 154.5M631.5 148.5L634.5 151.5L631.5 154.5M639.5 148.5L642.5 151.5L639.5 154.5M647.5 148.5L650.5 151.5L647.5 154.5M655.5 148.5L658.5 151.5L655.5 154.5M663.5 148.5L666.5 151.5L663.5 154.5M671.5 148.5L674.5 151.5L671.5 154.5M679.5 148.5L682.5 151.5L679.5 154.5M687.5 148.5L690.5 151.5L687.5 154.5M695.5 148.5L698.5 151.5L695.5 154.5M703.5 148.5L706.5 151.5L703.5 154.5M711.5 148.5L714.5 151.5L711.5 154.5M719.5 148.5L722.5 151.5L719.5 154.5M727.5 148.5L730.5 151.5L727.5 154.5M735.5 148.5L738.5 151.5L735.5 154.5M743.5 148.5L746.5 151.5L743.5 154.5M751.5 148.5L754.5 151.5L751.5 154.5M759.5 148.5L762.5 151.5L759.5 154.5M767.5 148.5L770.5 151.5L767.5 154.5M775.5 148.5L778.5 151.5L775.5 154.5M783.5 148.5L786.5 151.5L783.5 154.5M791.5 148.5L794.5 151.5L791.5 154.5M799.5 148.5L802.5 151.5L799.5 154.5M807.5 148.5L810.5 151.5L807.5 154.5M815.5 148.5L818.5 151.5L815.5 154.5M823.5 148.5L826.5 151.5L823.5 154.5M831.5 148.5L834.5 151.5L831.5 154.5M839.5 148.5L842.5 151.5L839.5 154.5M847.5 148.5L850.5 151.5L847.5 154.5M855.5 148.5L858.5 151.5L855.5 154.5M863.5 148.5L866.5 151.5L863.5 154.5M871.5 148.5L874.5 151.5L871.5 154.5M879.5 148.5L882.5 151.5L879.5 154.5M887.5 148.5L890.5 151.5L887.5 154.5M895.5 148.5L898.5 151.5L895.5 154.5M903.5 148.5L906.5 151.5L903.5 154.5M911.5 148.5L914.5 151.5L911.5 154.5M919.5 148.5L922.5 151.5L919.5 154.5M927.5 148.5L930.5 151.5L927.5 154.5M935.5 148.5L938.5 151.5L935.5 154.5M943.5 148.5L946.5 151.5L943.5 154.5" stroke="#0c0c78" stroke-width="1" fill="none"/>
<text transform="translate(124.80,172) scale(1,1.08)" font-size="13" fill="#0c0c78" textLength="26.49" lengthAdjust="spacing" xml:space="preserve">JMY</text>
<rect x="157" y="167" width="792" height="1" fill="#0c0c78" shape-rendering="crispEdges"/>
<path d="M159.5 164.5L162.5 167.5L159.5 170.5M167.5 164.5L170.5 167.5L167.5 170.5M175.5 164.5L178.5 167.5L175.5 170.5M183.5 164.5L186.5 167.5L183.5 170.5M191.5 164.5L194.5 167.5L191.5 170.5M199.5 164.5L202.5 167.5L199.5 170.5M207.5 164.5L210.5 167.5L207.5 170.5M215.5 164.5L218.5 167.5L215.5 170.5M223.5 164.5L226.5 167.5L223.5 170.5M231.5 164.5L234.5 167.5L231.5 170.5M239.5 164.5L242.5 167.5L239.5 170.5M247.5 164.5L250.5 167.5L247.5 170.5M255.5 164.5L258.5 167.5L255.5 170.5M263.5 164.5L266.5 167.5L263.5 170.5M271.5 164.5L274.5 167.5L271.5 170.5M279.5 164.5L282.5 167.5L279.5 170.5M287.5 164.5L290.5 167.5L287.5 170.5M295.5 164.5L298.5 167.5L295.5 170.5M303.5 164.5L306.5 167.5L303.5 170.5M311.5 164.5L314.5 167.5L311.5 170.5M319.5 164.5L322.5 167.5L319.5 170.5M327.5 164.5L330.5 167.5L327.5 170.5M335.5 164.5L338.5 167.5L335.5 170.5M343.5 164.5L346.5 167.5L343.5 170.5M351.5 164.5L354.5 167.5L351.5 170.5M359.5 164.5L362.5 167.5L359.5 170.5M367.5 164.5L370.5 167.5L367.5 170.5M375.5 164.5L378.5 167.5L375.5 170.5M383.5 164.5L386.5 167.5L383.5 170.5M391.5 164.5L394.5 167.5L391.5 170.5M399.5 164.5L402.5 167.5L399.5 170.5M407.5 164.5L410.5 167.5L407.5 170.5M415.5 164.5L418.5 167.5L415.5 170.5M423.5 164.5L426.5 167.5L423.5 170.5M431.5 164.5L434.5 167.5L431.5 170.5M439.5 164.5L442.5 167.5L439.5 170.5M447.5 164.5L450.5 167.5L447.5 170.5M455.5 164.5L458.5 167.5L455.5 170.5M463.5 164.5L466.5 167.5L463.5 170.5M471.5 164.5L474.5 167.5L471.5 170.5M479.5 164.5L482.5 167.5L479.5 170.5M487.5 164.5L490.5 167.5L487.5 170.5M495.5 164.5L498.5 167.5L495.5 170.5M503.5 164.5L506.5 167.5L503.5 170.5M511.5 164.5L514.5 167.5L511.5 170.5M519.5 164.5L522.5 167.5L519.5 170.5M527.5 164.5L530.5 167.5L527.5 170.5M535.5 164.5L538.5 167.5L535.5 170.5M543.5 164.5L546.5 167.5L543.5 170.5M551.5 164.5L554.5 167.5L551.5 170.5M559.5 164.5L562.5 167.5L559.5 170.5M567.5 164.5L570.5 167.5L567.5 170.5M575.5 164.5L578.5 167.5L575.5 170.5M583.5 164.5L586.5 167.5L583.5 170.5M591.5 164.5L594.5 167.5L591.5 170.5M599.5 164.5L602.5 167.5L599.5 170.5M607.5 164.5L610.5 167.5L607.5 170.5M615.5 164.5L618.5 167.5L615.5 170.5M623.5 164.5L626.5 167.5L623.5 170.5M631.5 164.5L634.5 167.5L631.5 170.5M639.5 164.5L642.5 167.5L639.5 170.5M647.5 164.5L650.5 167.5L647.5 170.5M655.5 164.5L658.5 167.5L655.5 170.5M663.5 164.5L666.5 167.5L663.5 170.5M671.5 164.5L674.5 167.5L671.5 170.5M679.5 164.5L682.5 167.5L679.5 170.5M687.5 164.5L690.5 167.5L687.5 170.5M695.5 164.5L698.5 167.5L695.5 170.5M703.5 164.5L706.5 167.5L703.5 170.5M711.5 164.5L714.5 167.5L711.5 170.5M719.5 164.5L722.5 167.5L719.5 170.5M727.5 164.5L730.5 167.5L727.5 170.5M735.5 164.5L738.5 167.5L735.5 170.5M743.5 164.5L746.5 167.5L743.5 170.5M751.5 164.5L754.5 167.5L751.5 170.5M759.5 164.5L762.5 167.5L759.5 170.5M767.5 164.5L770.5 167.5L767.5 170.5M775.5 164.5L778.5 167.5L775.5 170.5M783.5 164.5L786.5 167.5L783.5 170.5M791.5 164.5L794.5 167.5L791.5 170.5M799.5 164.5L802.5 167.5L799.5 170.5M807.5 164.5L810.5 167.5L807.5 170.5M815.5 164.5L818.5 167.5L815.5 170.5M823.5 164.5L826.5 167.5L823.5 170.5M831.5 164.5L834.5 167.5L831.5 170.5M839.5 164.5L842.5 167.5L839.5 170.5M847.5 164.5L850.5 167.5L847.5 170.5M855.5 164.5L858.5 167.5L855.5 170.5M863.5 164.5L866.5 167.5L863.5 170.5M871.5 164.5L874.5 167.5L871.5 170.5M879.5 164.5L882.5 167.5L879.5 170.5M887.5 164.5L890.5 167.5L887.5 170.5M895.5 164.5L898.5 167.5L895.5 170.5M903.5 164.5L906.5 167.5L903.5 170.5M911.5 164.5L914.5 167.5L911.5 170.5M919.5 164.5L922.5 167.5L919.5 170.5M927.5 164.5L930.5 167.5L927.5 170.5M935.5 164.5L938.5 167.5L935.5 170.5M943.5 164.5L946.5 167.5L943.5 170.5" stroke="#0c0c78" stroke-width="1" fill="none"/>
<text transform="translate(124.80,188) scale(1,1.08)" font-size="13" fill="#0c0c78" textLength="26.49" lengthAdjust="spacing" xml:space="preserve">JMY</text>
<rect x="157" y="183" width="792" height="1" fill="#0c0c78" shape-rendering="crispEdges"/>
<path d="M159.5 180.5L162.5 183.5L159.5 186.5M167.5 180.5L170.5 183.5L167.5 186.5M175.5 180.5L178.5 183.5L175.5 186.5M183.5 180.5L186.5 183.5L183.5 186.5M191.5 180.5L194.5 183.5L191.5 186.5M199.5 180.5L202.5 183.5L199.5 186.5M207.5 180.5L210.5 183.5L207.5 186.5M215.5 180.5L218.5 183.5L215.5 186.5M223.5 180.5L226.5 183.5L223.5 186.5M231.5 180.5L234.5 183.5L231.5 186.5M239.5 180.5L242.5 183.5L239.5 186.5M247.5 180.5L250.5 183.5L247.5 186.5M255.5 180.5L258.5 183.5L255.5 186.5M263.5 180.5L266.5 183.5L263.5 186.5M271.5 180.5L274.5 183.5L271.5 186.5M279.5 180.5L282.5 183.5L279.5 186.5M287.5 180.5L290.5 183.5L287.5 186.5M295.5 180.5L298.5 183.5L295.5 186.5M303.5 180.5L306.5 183.5L303.5 186.5M311.5 180.5L314.5 183.5L311.5 186.5M319.5 180.5L322.5 183.5L319.5 186.5M327.5 180.5L330.5 183.5L327.5 186.5M335.5 180.5L338.5 183.5L335.5 186.5M343.5 180.5L346.5 183.5L343.5 186.5M351.5 180.5L354.5 183.5L351.5 186.5M359.5 180.5L362.5 183.5L359.5 186.5M367.5 180.5L370.5 183.5L367.5 186.5M375.5 180.5L378.5 183.5L375.5 186.5M383.5 180.5L386.5 183.5L383.5 186.5M391.5 180.5L394.5 183.5L391.5 186.5M399.5 180.5L402.5 183.5L399.5 186.5M407.5 180.5L410.5 183.5L407.5 186.5M415.5 180.5L418.5 183.5L415.5 186.5M423.5 180.5L426.5 183.5L423.5 186.5M431.5 180.5L434.5 183.5L431.5 186.5M439.5 180.5L442.5 183.5L439.5 186.5M447.5 180.5L450.5 183.5L447.5 186.5M455.5 180.5L458.5 183.5L455.5 186.5M463.5 180.5L466.5 183.5L463.5 186.5M471.5 180.5L474.5 183.5L471.5 186.5M479.5 180.5L482.5 183.5L479.5 186.5M487.5 180.5L490.5 183.5L487.5 186.5M495.5 180.5L498.5 183.5L495.5 186.5M503.5 180.5L506.5 183.5L503.5 186.5M511.5 180.5L514.5 183.5L511.5 186.5M519.5 180.5L522.5 183.5L519.5 186.5M527.5 180.5L530.5 183.5L527.5 186.5M535.5 180.5L538.5 183.5L535.5 186.5M543.5 180.5L546.5 183.5L543.5 186.5M551.5 180.5L554.5 183.5L551.5 186.5M559.5 180.5L562.5 183.5L559.5 186.5M567.5 180.5L570.5 183.5L567.5 186.5M575.5 180.5L578.5 183.5L575.5 186.5M583.5 180.5L586.5 183.5L583.5 186.5M591.5 180.5L594.5 183.5L591.5 186.5M599.5 180.5L602.5 183.5L599.5 186.5M607.5 180.5L610.5 183.5L607.5 186.5M615.5 180.5L618.5 183.5L615.5 186.5M623.5 180.5L626.5 183.5L623.5 186.5M631.5 180.5L634.5 183.5L631.5 186.5M639.5 180.5L642.5 183.5L639.5 186.5M647.5 180.5L650.5 183.5L647.5 186.5M655.5 180.5L658.5 183.5L655.5 186.5M663.5 180.5L666.5 183.5L663.5 186.5M671.5 180.5L674.5 183.5L671.5 186.5M679.5 180.5L682.5 183.5L679.5 186.5M687.5 180.5L690.5 183.5L687.5 186.5M695.5 180.5L698.5 183.5L695.5 186.5M703.5 180.5L706.5 183.5L703.5 186.5M711.5 180.5L714.5 183.5L711.5 186.5M719.5 180.5L722.5 183.5L719.5 186.5M727.5 180.5L730.5 183.5L727.5 186.5M735.5 180.5L738.5 183.5L735.5 186.5M743.5 180.5L746.5 183.5L743.5 186.5M751.5 180.5L754.5 183.5L751.5 186.5M759.5 180.5L762.5 183.5L759.5 186.5M767.5 180.5L770.5 183.5L767.5 186.5M775.5 180.5L778.5 183.5L775.5 186.5M783.5 180.5L786.5 183.5L783.5 186.5M791.5 180.5L794.5 183.5L791.5 186.5M799.5 180.5L802.5 183.5L799.5 186.5M807.5 180.5L810.5 183.5L807.5 186.5M815.5 180.5L818.5 183.5L815.5 186.5M823.5 180.5L826.5 183.5L823.5 186.5M831.5 180.5L834.5 183.5L831.5 186.5M839.5 180.5L842.5 183.5L839.5 186.5M847.5 180.5L850.5 183.5L847.5 186.5M855.5 180.5L858.5 183.5L855.5 186.5M863.5 180.5L866.5 183.5L863.5 186.5M871.5 180.5L874.5 183.5L871.5 186.5M879.5 180.5L882.5 183.5L879.5 186.5M887.5 180.5L890.5 183.5L887.5 186.5M895.5 180.5L898.5 183.5L895.5 186.5M903.5 180.5L906.5 183.5L903.5 186.5M911.5 180.5L914.5 183.5L911.5 186.5M919.5 180.5L922.5 183.5L919.5 186.5M927.5 180.5L930.5 183.5L927.5 186.5M935.5 180.5L938.5 183.5L935.5 186.5M943.5 180.5L946.5 183.5L943.5 186.5" stroke="#0c0c78" stroke-width="1" fill="none"/>
<text transform="translate(491.10,204) scale(1,1.08)" font-size="11" fill="#000" textLength="123.32" lengthAdjust="spacing" xml:space="preserve">RefSeq genes from NCBI</text>
<text transform="translate(59.93,219) scale(1,1.08)" font-size="13" fill="#0c0c78" textLength="92.60" lengthAdjust="spacing" xml:space="preserve">RefSeq Curated</text>
<rect x="157" y="214" width="792" height="1" fill="#0c0c78" shape-rendering="crispEdges"/>
<text transform="translate(445.10,235) scale(1,1.08)" font-size="11" fill="#000" textLength="214.70" lengthAdjust="spacing" xml:space="preserve">Publications: Sequences in Scientific Articles</text>
<text transform="translate(86.91,250) scale(1,1.08)" font-size="13" fill="#000" textLength="64.56" lengthAdjust="spacing" xml:space="preserve">Sequences</text>
<text transform="translate(117.91,266) scale(1,1.08)" font-size="13" fill="#000" textLength="33.56" lengthAdjust="spacing" xml:space="preserve">SNPs</text>
<text transform="translate(367.38,283) scale(1,1.08)" font-size="13" fill="#006400" textLength="370.25" lengthAdjust="spacing" xml:space="preserve">OMIM Gene Phenotypes - Dark Green Can Be Disease-causing</text>
<text transform="translate(73.88,297) scale(1,1.08)" font-size="13" fill="#006400" textLength="77.59" lengthAdjust="spacing" xml:space="preserve">OMIM Genes</text>
<rect x="156" y="285" width="793" height="15" fill="#bebebe" shape-rendering="crispEdges"/>
<text transform="translate(436.00,313) scale(1,1.08)" font-size="11" fill="#000" textLength="232.46" lengthAdjust="spacing" xml:space="preserve">Short Genetic Variants from dbSNP release 155</text>
<text transform="translate(25.74,328) scale(1,1.08)" font-size="13" fill="#000" textLength="126.67" lengthAdjust="spacing" xml:space="preserve">Common dbSNP(155)</text>
<text transform="translate(266.15,345) scale(1,1.08)" font-size="13" fill="#000" textLength="115.10" lengthAdjust="spacing" xml:space="preserve">Gene Expression in</text>
<text transform="translate(383.88,345) scale(1,1.08)" font-size="13" fill="#000" textLength="127.26" lengthAdjust="spacing" xml:space="preserve">54 tissues from GTEx</text>
<text transform="translate(515.93,345) scale(1,1.08)" font-size="13" fill="#000" textLength="66.45" lengthAdjust="spacing" xml:space="preserve">RNA-seq of</text>
<text transform="translate(588.01,345) scale(1,1.08)" font-size="13" fill="#000" textLength="86.76" lengthAdjust="spacing" xml:space="preserve">17382 samples,</text>
<text transform="translate(680.39,345) scale(1,1.08)" font-size="13" fill="#000" textLength="158.02" lengthAdjust="spacing" xml:space="preserve">948 donors (V8, Aug 2019)</text>
<text transform="translate(124.80,376) scale(1,1.08)" font-size="13" fill="#000" textLength="26.49" lengthAdjust="spacing" xml:space="preserve">JMY</text>
<g shape-rendering="crispEdges">
<rect x="156" y="348" width="378" height="42" fill="#fff"/>
<rect x="156" y="348" width="378" height="1" fill="#f4f4f4"/>
<rect x="156" y="348" width="1" height="42" fill="#f4f4f4"/>
<rect x="533" y="348" width="1" height="42" fill="#f4f4f4"/>
<rect x="156" y="360" width="5" height="29" fill="#f49e4b"/>
<rect x="157" y="361" width="3" height="28" fill="#ffa54f"/>
<rect x="163" y="363" width="5" height="26" fill="#e49300"/>
<rect x="164" y="364" width="3" height="25" fill="#ee9a00"/>
<rect x="170" y="364" width="5" height="25" fill="#89b489"/>
<rect x="171" y="365" width="3" height="24" fill="#8fbc8f"/>
<rect x="177" y="357" width="5" height="32" fill="#851a5e"/>
<rect x="178" y="358" width="3" height="31" fill="#8b1c62"/>
<rect x="184" y="358" width="5" height="31" fill="#e4654c"/>
<rect x="185" y="359" width="3" height="30" fill="#ee6a50"/>
<rect x="191" y="352" width="5" height="37" fill="#f40000"/>
<rect x="192" y="353" width="3" height="36" fill="#ff0000"/>
<rect x="198" y="355" width="5" height="34" fill="#c4af97"/>
<rect x="199" y="356" width="3" height="33" fill="#cdb79e"/>
<rect x="205" y="369" width="5" height="20" fill="#e4e400"/>
<rect x="206" y="370" width="3" height="19" fill="#eeee00"/>
<rect x="212" y="366" width="5" height="23" fill="#e4e400"/>
<rect x="213" y="367" width="3" height="22" fill="#eeee00"/>
<rect x="219" y="366" width="5" height="23" fill="#e4e400"/>
<rect x="220" y="367" width="3" height="22" fill="#eeee00"/>
<rect x="226" y="352" width="5" height="37" fill="#e4e400"/>
<rect x="227" y="353" width="3" height="36" fill="#eeee00"/>
<rect x="233" y="354" width="5" height="35" fill="#e4e400"/>
<rect x="234" y="355" width="3" height="34" fill="#eeee00"/>
<rect x="240" y="364" width="5" height="25" fill="#e4e400"/>
<rect x="241" y="365" width="3" height="24" fill="#eeee00"/>
<rect x="247" y="361" width="5" height="28" fill="#e4e400"/>
<rect x="248" y="362" width="3" height="27" fill="#eeee00"/>
<rect x="254" y="368" width="5" height="21" fill="#e4e400"/>
<rect x="255" y="369" width="3" height="20" fill="#eeee00"/>
<rect x="261" y="365" width="5" height="24" fill="#e4e400"/>
<rect x="262" y="366" width="3" height="23" fill="#eeee00"/>
<rect x="268" y="364" width="5" height="25" fill="#e4e400"/>
<rect x="269" y="365" width="3" height="24" fill="#eeee00"/>
<rect x="275" y="368" width="5" height="21" fill="#e4e400"/>
<rect x="276" y="369" width="3" height="20" fill="#eeee00"/>
<rect x="282" y="363" width="5" height="26" fill="#e4e400"/>
<rect x="283" y="364" width="3" height="25" fill="#eeee00"/>
<rect x="289" y="367" width="5" height="22" fill="#e4e400"/>
<rect x="290" y="368" width="3" height="21" fill="#eeee00"/>
<rect x="296" y="360" width="5" height="29" fill="#00c4c4"/>
<rect x="297" y="361" width="3" height="28" fill="#00cdcd"/>
<rect x="303" y="365" width="5" height="24" fill="#e47ce4"/>
<rect x="304" y="366" width="3" height="23" fill="#ee82ee"/>
<rect x="310" y="361" width="5" height="28" fill="#93b8c4"/>
<rect x="311" y="362" width="3" height="27" fill="#9ac0cd"/>
<rect x="317" y="354" width="5" height="35" fill="#e4ccc9"/>
<rect x="318" y="355" width="3" height="34" fill="#eed5d2"/>
<rect x="324" y="352" width="5" height="37" fill="#e4ccc9"/>
<rect x="325" y="353" width="3" height="36" fill="#eed5d2"/>
<rect x="331" y="350" width="5" height="39" fill="#c4af97"/>
<rect x="332" y="351" width="3" height="38" fill="#cdb79e"/>
<rect x="338" y="359" width="5" height="30" fill="#e4bd8b"/>
<rect x="339" y="360" width="3" height="29" fill="#eec591"/>
<rect x="345" y="353" width="5" height="36" fill="#856e51"/>
<rect x="346" y="354" width="3" height="35" fill="#8b7355"/>
<rect x="352" y="364" width="5" height="25" fill="#856e51"/>
<rect x="353" y="365" width="3" height="24" fill="#8b7355"/>
<rect x="359" y="350" width="5" height="39" fill="#c4a378"/>
<rect x="360" y="351" width="3" height="38" fill="#cdaa7d"/>
<rect x="366" y="353" width="5" height="36" fill="#e4ccc9"/>
<rect x="367" y="354" width="3" height="35" fill="#eed5d2"/>
<rect x="373" y="368" width="5" height="21" fill="#ac4ec4"/>
<rect x="374" y="369" width="3" height="20" fill="#b452cd"/>
<rect x="380" y="372" width="5" height="17" fill="#753485"/>
<rect x="381" y="373" width="3" height="16" fill="#7a378b"/>
<rect x="387" y="370" width="5" height="19" fill="#c4af97"/>
<rect x="388" y="371" width="3" height="18" fill="#cdb79e"/>
<rect x="394" y="366" width="5" height="23" fill="#c4af97"/>
<rect x="395" y="367" width="3" height="22" fill="#cdb79e"/>
<rect x="401" y="372" width="5" height="17" fill="#c4af97"/>
<rect x="402" y="373" width="3" height="16" fill="#cdb79e"/>
<rect x="408" y="361" width="5" height="28" fill="#93c430"/>
<rect x="409" y="362" width="3" height="27" fill="#9acd32"/>
<rect x="415" y="360" width="5" height="29" fill="#c4af97"/>
<rect x="416" y="361" width="3" height="28" fill="#cdb79e"/>
<rect x="422" y="363" width="5" height="26" fill="#7562e4"/>
<rect x="423" y="364" width="3" height="25" fill="#7a67ee"/>
<rect x="429" y="355" width="5" height="34" fill="#f4ce00"/>
<rect x="430" y="356" width="3" height="33" fill="#ffd700"/>
<rect x="436" y="348" width="5" height="41" fill="#f4aeb9"/>
<rect x="437" y="349" width="3" height="40" fill="#ffb6c1"/>
<rect x="443" y="367" width="5" height="22" fill="#c4941b"/>
<rect x="444" y="368" width="3" height="21" fill="#cd9b1d"/>
<rect x="450" y="358" width="5" height="31" fill="#ace4ac"/>
<rect x="451" y="359" width="3" height="30" fill="#b4eeb4"/>
<rect x="457" y="358" width="5" height="31" fill="#d0d0d0"/>
<rect x="458" y="359" width="3" height="30" fill="#d9d9d9"/>
<rect x="464" y="357" width="5" height="32" fill="#375bc4"/>
<rect x="465" y="358" width="3" height="31" fill="#3a5fcd"/>
<rect x="471" y="356" width="5" height="33" fill="#1c8af4"/>
<rect x="472" y="357" width="3" height="32" fill="#1e90ff"/>
<rect x="478" y="361" width="5" height="28" fill="#c4af97"/>
<rect x="479" y="362" width="3" height="27" fill="#cdb79e"/>
<rect x="485" y="363" width="5" height="26" fill="#c4af97"/>
<rect x="486" y="364" width="3" height="25" fill="#cdb79e"/>
<rect x="492" y="363" width="5" height="26" fill="#f4ca94"/>
<rect x="493" y="364" width="3" height="25" fill="#ffd39b"/>
<rect x="499" y="354" width="5" height="35" fill="#9f9f9f"/>
<rect x="500" y="355" width="3" height="34" fill="#a6a6a6"/>
<rect x="506" y="353" width="5" height="36" fill="#008542"/>
<rect x="507" y="354" width="3" height="35" fill="#008b45"/>
<rect x="513" y="351" width="5" height="38" fill="#e4ccc9"/>
<rect x="514" y="352" width="3" height="37" fill="#eed5d2"/>
<rect x="520" y="356" width="5" height="33" fill="#e4ccc9"/>
<rect x="521" y="357" width="3" height="32" fill="#eed5d2"/>
<rect x="527" y="380" width="5" height="9" fill="#f400f4"/>
<rect x="528" y="381" width="3" height="8" fill="#ff00ff"/>
<rect x="156" y="390" width="793" height="2" fill="#000080"/>
</g>
<text transform="translate(280.93,407) scale(1,1.08)" font-size="13" fill="#000" textLength="87.05" lengthAdjust="spacing" xml:space="preserve">H3K27Ac Mark</text>
<text transform="translate(372.19,407) scale(1,1.08)" font-size="13" fill="#000" textLength="77.24" lengthAdjust="spacing" xml:space="preserve">(Often Found</text>
<text transform="translate(452.53,407) scale(1,1.08)" font-size="13" fill="#000" textLength="68.44" lengthAdjust="spacing" xml:space="preserve">Near Active</text>
<text transform="translate(524.53,407) scale(1,1.08)" font-size="13" fill="#000" textLength="125.67" lengthAdjust="spacing" xml:space="preserve">Regulatory Elements)</text>
<text transform="translate(653.45,407) scale(1,1.08)" font-size="13" fill="#000" textLength="80.02" lengthAdjust="spacing" xml:space="preserve">on 7 cell lines</text>
<text transform="translate(738.42,407) scale(1,1.08)" font-size="13" fill="#000" textLength="83.54" lengthAdjust="spacing" xml:space="preserve">from ENCODE</text>
<text transform="translate(13.03,421) scale(1,1.08)" font-size="13" fill="#000" textLength="104.51" lengthAdjust="spacing" xml:space="preserve">Layered H3K27Ac</text>
<g shape-rendering="crispEdges">
<rect x="156" y="436" width="793" height="2" fill="#ffcf7a"/>
<rect x="156" y="438" width="793" height="1" fill="#80c468"/>
</g>
<text transform="translate(405.31,453) scale(1,1.08)" font-size="13" fill="#3c3c8c" textLength="293.68" lengthAdjust="spacing" xml:space="preserve">100 vertebrates Basewise Conservation by PhyloP</text>
<text transform="translate(116.20,452) scale(1,1.08)" font-size="13" fill="#3c3c8c" textLength="24.66" lengthAdjust="spacing" xml:space="preserve">4.88</text>
<rect x="144.9" y="452.8" width="7.5" height="1" fill="#3c3c8c"/>
<text transform="translate(13.11,477) scale(1,1.08)" font-size="13" fill="#3c3c8c" textLength="86.56" lengthAdjust="spacing" xml:space="preserve">100 Vert. Cons</text>
<text transform="translate(119.02,502) scale(1,1.08)" font-size="13" fill="#8c3c3c" textLength="21.82" lengthAdjust="spacing" xml:space="preserve">-4.5</text>
<rect x="144.9" y="502.8" width="7.5" height="1" fill="#8c3c3c"/>
<defs><linearGradient id="gC" x1="0" x2="1" y1="0" y2="0"><stop offset="0" stop-color="#9c9600" stop-opacity="0.35"/><stop offset="0.03" stop-color="#9c9600" stop-opacity="0.85"/><stop offset="0.12" stop-color="#9c9600" stop-opacity="0.85"/><stop offset="0.2" stop-color="#9c9600" stop-opacity="0.35"/><stop offset="0.5" stop-color="#9c9600" stop-opacity="0.22"/><stop offset="0.74" stop-color="#9c9600" stop-opacity="0.26"/><stop offset="0.82" stop-color="#9c9600" stop-opacity="0.4"/><stop offset="1" stop-color="#9c9600" stop-opacity="0.4"/></linearGradient><linearGradient id="gG" x1="0" x2="1" y1="0" y2="0"><stop offset="0" stop-color="#0000ff" stop-opacity="0.3"/><stop offset="0.03" stop-color="#0000ff" stop-opacity="0.7"/><stop offset="0.17" stop-color="#0000ff" stop-opacity="0.7"/><stop offset="0.25" stop-color="#0000ff" stop-opacity="0.3"/><stop offset="0.5" stop-color="#0000ff" stop-opacity="0.22"/><stop offset="0.8" stop-color="#0000ff" stop-opacity="0.32"/><stop offset="1" stop-color="#0000ff" stop-opacity="0.5"/></linearGradient></defs>
<text transform="translate(158.75,487.22) scale(1.0658,0.1389)" font-size="60" fill="#9a8f00">C</text>
<rect x="160" y="487" width="37" height="1" fill="#00e000" opacity="0.3"/>
<rect x="176" y="487" width="6" height="2" fill="#00e000"/>
<rect x="219.34" y="479" width="35.20" height="1.9" fill="url(#gC)"/>
<path d="M250.54 479 L254.54 479.1 L259.54 480.4 L259.04 481 L251.54 480.9 Z" fill="#9c9600" opacity="0.55"/>
<path d="M274.79 480.5 L283.59 480.5 L285.59 479.4 L304.29 479.4 L306.29 480.5 L314.99 480.5" stroke="#ff0000" stroke-width="0.9" stroke-opacity="0.9" fill="none" stroke-linecap="round"/>
<rect x="330.03" y="479" width="38" height="1" fill="#00e000" opacity="0.22"/>
<rect x="346.03" y="479" width="6" height="2" fill="#00e000"/>
<rect x="389.27" y="479" width="35.20" height="1.9" fill="url(#gC)"/>
<path d="M420.47 479 L424.47 479.1 L429.47 480.4 L428.97 481 L421.47 480.9 Z" fill="#9c9600" opacity="0.55"/>
<path d="M444.71 480.5 L453.51 480.5 L455.51 479.4 L474.21 479.4 L476.21 480.5 L484.91 480.5" stroke="#ff0000" stroke-width="0.9" stroke-opacity="0.9" fill="none" stroke-linecap="round"/>
<rect x="499.96" y="479" width="38" height="1" fill="#00e000" opacity="0.22"/>
<rect x="515.96" y="479" width="6" height="2" fill="#00e000"/>
<rect x="559.20" y="479" width="35.20" height="1.9" fill="url(#gC)"/>
<path d="M590.40 479 L594.40 479.1 L599.40 480.4 L598.90 481 L591.40 480.9 Z" fill="#9c9600" opacity="0.55"/>
<rect x="613.24" y="479" width="38" height="1" fill="#00e000" opacity="0.22"/>
<rect x="629.24" y="479" width="6" height="2" fill="#00e000"/>
<rect x="672.19" y="479" width="36.90" height="1.8" fill="url(#gG)"/>
<path d="M706.09 479.3 L709.09 479.6 L715.09 480.1 L715.09 481 L710.09 480.8 L706.59 480.3 Z" fill="#0000ff" opacity="0.9"/>
<rect x="728.83" y="479" width="36.90" height="1.8" fill="url(#gG)"/>
<path d="M762.73 479.3 L765.73 479.6 L771.73 480.1 L771.73 481 L766.73 480.8 L763.23 480.3 Z" fill="#0000ff" opacity="0.9"/>
<rect x="785.77" y="479" width="35.20" height="1.9" fill="url(#gC)"/>
<path d="M816.97 479 L820.97 479.1 L825.97 480.4 L825.47 481 L817.97 480.9 Z" fill="#9c9600" opacity="0.55"/>
<rect x="839.81" y="479" width="38" height="1" fill="#00e000" opacity="0.22"/>
<rect x="855.81" y="479" width="6" height="2" fill="#00e000"/>
<rect x="898.76" y="479" width="36.90" height="1.8" fill="url(#gG)"/>
<path d="M932.66 479.3 L935.66 479.6 L941.66 480.1 L941.66 481 L936.66 480.8 L933.16 480.3 Z" fill="#0000ff" opacity="0.9"/>
<text transform="translate(445.13,519) scale(1,1.08)" font-size="13" fill="#0c0c78" textLength="214.94" lengthAdjust="spacing" xml:space="preserve">Multiz Alignments of 100 Vertebrates</text>
<text transform="translate(121.35,533) scale(1,1.08)" font-size="13" fill="#e68200" textLength="30.12" lengthAdjust="spacing" xml:space="preserve">Gaps</text>
<text transform="translate(111.03,548) scale(1,1.08)" font-size="13" fill="#0c0c78" textLength="41.31" lengthAdjust="spacing" xml:space="preserve">Human</text>
<text transform="translate(182.50,548) scale(1,1.08)" font-size="13" fill="#0c0c78" text-anchor="middle">C</text>
<text transform="translate(239.18,548) scale(1,1.08)" font-size="13" fill="#0c0c78" text-anchor="middle">C</text>
<text transform="translate(295.86,548) scale(1,1.08)" font-size="13" fill="#0c0c78" text-anchor="middle">A</text>
<text transform="translate(352.54,548) scale(1,1.08)" font-size="13" fill="#0c0c78" text-anchor="middle">T</text>
<text transform="translate(409.22,548) scale(1,1.08)" font-size="13" fill="#0c0c78" text-anchor="middle">C</text>
<text transform="translate(465.90,548) scale(1,1.08)" font-size="13" fill="#0c0c78" text-anchor="middle">A</text>
<text transform="translate(522.58,548) scale(1,1.08)" font-size="13" fill="#0c0c78" text-anchor="middle">T</text>
<text transform="translate(579.26,548) scale(1,1.08)" font-size="13" fill="#0c0c78" text-anchor="middle">C</text>
<text transform="translate(635.94,548) scale(1,1.08)" font-size="13" fill="#0c0c78" text-anchor="middle">T</text>
<text transform="translate(692.62,548) scale(1,1.08)" font-size="13" fill="#0c0c78" text-anchor="middle">G</text>
<text transform="translate(749.30,548) scale(1,1.08)" font-size="13" fill="#0c0c78" text-anchor="middle">G</text>
<text transform="translate(805.98,548) scale(1,1.08)" font-size="13" fill="#0c0c78" text-anchor="middle">C</text>
<text transform="translate(862.66,548) scale(1,1.08)" font-size="13" fill="#0c0c78" text-anchor="middle">T</text>
<text transform="translate(919.34,548) scale(1,1.08)" font-size="13" fill="#0c0c78" text-anchor="middle">G</text>
<text transform="translate(108.13,563) scale(1,1.08)" font-size="13" fill="#0c0c78" textLength="43.84" lengthAdjust="spacing" xml:space="preserve">Rhesus</text>
<text transform="translate(182.50,563) scale(1,1.08)" font-size="13" fill="#0c0c78" text-anchor="middle">C</text>
<text transform="translate(239.18,563) scale(1,1.08)" font-size="13" fill="#0c0c78" text-anchor="middle">C</text>
<text transform="translate(295.86,563) scale(1,1.08)" font-size="13" fill="#0c0c78" text-anchor="middle">A</text>
<text transform="translate(352.54,563) scale(1,1.08)" font-size="13" fill="#0c0c78" text-anchor="middle">T</text>
<text transform="translate(409.22,563) scale(1,1.08)" font-size="13" fill="#0c0c78" text-anchor="middle">C</text>
<text transform="translate(465.90,563) scale(1,1.08)" font-size="13" fill="#0c0c78" text-anchor="middle">A</text>
<text transform="translate(522.58,563) scale(1,1.08)" font-size="13" fill="#0c0c78" text-anchor="middle">T</text>
<text transform="translate(579.26,563) scale(1,1.08)" font-size="13" fill="#0c0c78" text-anchor="middle">C</text>
<text transform="translate(635.94,563) scale(1,1.08)" font-size="13" fill="#0c0c78" text-anchor="middle">T</text>
<text transform="translate(692.62,563) scale(1,1.08)" font-size="13" fill="#0c0c78" text-anchor="middle">G</text>
<text transform="translate(749.30,563) scale(1,1.08)" font-size="13" fill="#0c0c78" text-anchor="middle">G</text>
<text transform="translate(805.98,563) scale(1,1.08)" font-size="13" fill="#0c0c78" text-anchor="middle">C</text>
<text transform="translate(862.66,563) scale(1,1.08)" font-size="13" fill="#0c0c78" text-anchor="middle">T</text>
<text transform="translate(919.34,563) scale(1,1.08)" font-size="13" fill="#0c0c78" text-anchor="middle">G</text>
<text transform="translate(113.03,578) scale(1,1.08)" font-size="13" fill="#006400" textLength="39.04" lengthAdjust="spacing" xml:space="preserve">Mouse</text>
<path d="M178.40 573.40h6.7M178.40 576.70h6.7" stroke="#4a4a90" stroke-width="0.7" fill="none"/>
<path d="M235.08 573.40h6.7M235.08 576.70h6.7" stroke="#4a4a90" stroke-width="0.7" fill="none"/>
<path d="M291.76 573.40h6.7M291.76 576.70h6.7" stroke="#4a4a90" stroke-width="0.7" fill="none"/>
<path d="M348.44 573.40h6.7M348.44 576.70h6.7" stroke="#4a4a90" stroke-width="0.7" fill="none"/>
<path d="M405.12 573.40h6.7M405.12 576.70h6.7" stroke="#4a4a90" stroke-width="0.7" fill="none"/>
<path d="M461.80 573.40h6.7M461.80 576.70h6.7" stroke="#4a4a90" stroke-width="0.7" fill="none"/>
<path d="M518.48 573.40h6.7M518.48 576.70h6.7" stroke="#4a4a90" stroke-width="0.7" fill="none"/>
<path d="M575.16 573.40h6.7M575.16 576.70h6.7" stroke="#4a4a90" stroke-width="0.7" fill="none"/>
<path d="M631.84 573.40h6.7M631.84 576.70h6.7" stroke="#4a4a90" stroke-width="0.7" fill="none"/>
<path d="M688.52 573.40h6.7M688.52 576.70h6.7" stroke="#4a4a90" stroke-width="0.7" fill="none"/>
<path d="M745.20 573.40h6.7M745.20 576.70h6.7" stroke="#4a4a90" stroke-width="0.7" fill="none"/>
<path d="M801.88 573.40h6.7M801.88 576.70h6.7" stroke="#4a4a90" stroke-width="0.7" fill="none"/>
<path d="M858.56 573.40h6.7M858.56 576.70h6.7" stroke="#4a4a90" stroke-width="0.7" fill="none"/>
<path d="M915.24 573.40h6.7M915.24 576.70h6.7" stroke="#4a4a90" stroke-width="0.7" fill="none"/>
<text transform="translate(129.03,593) scale(1,1.08)" font-size="13" fill="#0c0c78" textLength="23.30" lengthAdjust="spacing" xml:space="preserve">Dog</text>
<path d="M178.40 588.40h6.7M178.40 591.70h6.7" stroke="#4a4a90" stroke-width="0.7" fill="none"/>
<path d="M235.08 588.40h6.7M235.08 591.70h6.7" stroke="#4a4a90" stroke-width="0.7" fill="none"/>
<path d="M291.76 588.40h6.7M291.76 591.70h6.7" stroke="#4a4a90" stroke-width="0.7" fill="none"/>
<path d="M348.44 588.40h6.7M348.44 591.70h6.7" stroke="#4a4a90" stroke-width="0.7" fill="none"/>
<path d="M405.12 588.40h6.7M405.12 591.70h6.7" stroke="#4a4a90" stroke-width="0.7" fill="none"/>
<path d="M461.80 588.40h6.7M461.80 591.70h6.7" stroke="#4a4a90" stroke-width="0.7" fill="none"/>
<path d="M518.48 588.40h6.7M518.48 591.70h6.7" stroke="#4a4a90" stroke-width="0.7" fill="none"/>
<path d="M575.16 588.40h6.7M575.16 591.70h6.7" stroke="#4a4a90" stroke-width="0.7" fill="none"/>
<path d="M631.84 588.40h6.7M631.84 591.70h6.7" stroke="#4a4a90" stroke-width="0.7" fill="none"/>
<path d="M688.52 588.40h6.7M688.52 591.70h6.7" stroke="#4a4a90" stroke-width="0.7" fill="none"/>
<path d="M745.20 588.40h6.7M745.20 591.70h6.7" stroke="#4a4a90" stroke-width="0.7" fill="none"/>
<path d="M801.88 588.40h6.7M801.88 591.70h6.7" stroke="#4a4a90" stroke-width="0.7" fill="none"/>
<path d="M858.56 588.40h6.7M858.56 591.70h6.7" stroke="#4a4a90" stroke-width="0.7" fill="none"/>
<path d="M915.24 588.40h6.7M915.24 591.70h6.7" stroke="#4a4a90" stroke-width="0.7" fill="none"/>
<text transform="translate(101.03,608) scale(1,1.08)" font-size="13" fill="#006400" textLength="50.56" lengthAdjust="spacing" xml:space="preserve">Elephant</text>
<path d="M178.40 603.40h6.7M178.40 606.70h6.7" stroke="#4a4a90" stroke-width="0.7" fill="none"/>
<path d="M235.08 603.40h6.7M235.08 606.70h6.7" stroke="#4a4a90" stroke-width="0.7" fill="none"/>
<path d="M291.76 603.40h6.7M291.76 606.70h6.7" stroke="#4a4a90" stroke-width="0.7" fill="none"/>
<path d="M348.44 603.40h6.7M348.44 606.70h6.7" stroke="#4a4a90" stroke-width="0.7" fill="none"/>
<path d="M405.12 603.40h6.7M405.12 606.70h6.7" stroke="#4a4a90" stroke-width="0.7" fill="none"/>
<path d="M461.80 603.40h6.7M461.80 606.70h6.7" stroke="#4a4a90" stroke-width="0.7" fill="none"/>
<path d="M518.48 603.40h6.7M518.48 606.70h6.7" stroke="#4a4a90" stroke-width="0.7" fill="none"/>
<path d="M575.16 603.40h6.7M575.16 606.70h6.7" stroke="#4a4a90" stroke-width="0.7" fill="none"/>
<path d="M631.84 603.40h6.7M631.84 606.70h6.7" stroke="#4a4a90" stroke-width="0.7" fill="none"/>
<path d="M688.52 603.40h6.7M688.52 606.70h6.7" stroke="#4a4a90" stroke-width="0.7" fill="none"/>
<path d="M745.20 603.40h6.7M745.20 606.70h6.7" stroke="#4a4a90" stroke-width="0.7" fill="none"/>
<path d="M801.88 603.40h6.7M801.88 606.70h6.7" stroke="#4a4a90" stroke-width="0.7" fill="none"/>
<path d="M858.56 603.40h6.7M858.56 606.70h6.7" stroke="#4a4a90" stroke-width="0.7" fill="none"/>
<path d="M915.24 603.40h6.7M915.24 606.70h6.7" stroke="#4a4a90" stroke-width="0.7" fill="none"/>
<text transform="translate(105.24,623) scale(1,1.08)" font-size="13" fill="#006400" textLength="47.10" lengthAdjust="spacing" xml:space="preserve">Chicken</text>
<path d="M178.40 618.40h6.7M178.40 621.70h6.7" stroke="#4a4a90" stroke-width="0.7" fill="none"/>
<path d="M235.08 618.40h6.7M235.08 621.70h6.7" stroke="#4a4a90" stroke-width="0.7" fill="none"/>
<path d="M291.76 618.40h6.7M291.76 621.70h6.7" stroke="#4a4a90" stroke-width="0.7" fill="none"/>
<path d="M348.44 618.40h6.7M348.44 621.70h6.7" stroke="#4a4a90" stroke-width="0.7" fill="none"/>
<path d="M405.12 618.40h6.7M405.12 621.70h6.7" stroke="#4a4a90" stroke-width="0.7" fill="none"/>
<path d="M461.80 618.40h6.7M461.80 621.70h6.7" stroke="#4a4a90" stroke-width="0.7" fill="none"/>
<path d="M518.48 618.40h6.7M518.48 621.70h6.7" stroke="#4a4a90" stroke-width="0.7" fill="none"/>
<path d="M575.16 618.40h6.7M575.16 621.70h6.7" stroke="#4a4a90" stroke-width="0.7" fill="none"/>
<path d="M631.84 618.40h6.7M631.84 621.70h6.7" stroke="#4a4a90" stroke-width="0.7" fill="none"/>
<path d="M688.52 618.40h6.7M688.52 621.70h6.7" stroke="#4a4a90" stroke-width="0.7" fill="none"/>
<path d="M745.20 618.40h6.7M745.20 621.70h6.7" stroke="#4a4a90" stroke-width="0.7" fill="none"/>
<path d="M801.88 618.40h6.7M801.88 621.70h6.7" stroke="#4a4a90" stroke-width="0.7" fill="none"/>
<path d="M858.56 618.40h6.7M858.56 621.70h6.7" stroke="#4a4a90" stroke-width="0.7" fill="none"/>
<path d="M915.24 618.40h6.7M915.24 621.70h6.7" stroke="#4a4a90" stroke-width="0.7" fill="none"/>
<text transform="translate(83.61,638) scale(1,1.08)" font-size="13" fill="#0c0c78" textLength="68.36" lengthAdjust="spacing" xml:space="preserve">X_tropicalis</text>
<path d="M178.40 633.40h6.7M178.40 636.70h6.7" stroke="#4a4a90" stroke-width="0.7" fill="none"/>
<path d="M235.08 633.40h6.7M235.08 636.70h6.7" stroke="#4a4a90" stroke-width="0.7" fill="none"/>
<path d="M291.76 633.40h6.7M291.76 636.70h6.7" stroke="#4a4a90" stroke-width="0.7" fill="none"/>
<path d="M348.44 633.40h6.7M348.44 636.70h6.7" stroke="#4a4a90" stroke-width="0.7" fill="none"/>
<path d="M405.12 633.40h6.7M405.12 636.70h6.7" stroke="#4a4a90" stroke-width="0.7" fill="none"/>
<path d="M461.80 633.40h6.7M461.80 636.70h6.7" stroke="#4a4a90" stroke-width="0.7" fill="none"/>
<path d="M518.48 633.40h6.7M518.48 636.70h6.7" stroke="#4a4a90" stroke-width="0.7" fill="none"/>
<path d="M575.16 633.40h6.7M575.16 636.70h6.7" stroke="#4a4a90" stroke-width="0.7" fill="none"/>
<path d="M631.84 633.40h6.7M631.84 636.70h6.7" stroke="#4a4a90" stroke-width="0.7" fill="none"/>
<path d="M688.52 633.40h6.7M688.52 636.70h6.7" stroke="#4a4a90" stroke-width="0.7" fill="none"/>
<path d="M745.20 633.40h6.7M745.20 636.70h6.7" stroke="#4a4a90" stroke-width="0.7" fill="none"/>
<path d="M801.88 633.40h6.7M801.88 636.70h6.7" stroke="#4a4a90" stroke-width="0.7" fill="none"/>
<path d="M858.56 633.40h6.7M858.56 636.70h6.7" stroke="#4a4a90" stroke-width="0.7" fill="none"/>
<path d="M915.24 633.40h6.7M915.24 636.70h6.7" stroke="#4a4a90" stroke-width="0.7" fill="none"/>
<text transform="translate(97.59,653) scale(1,1.08)" font-size="13" fill="#006400" textLength="54.76" lengthAdjust="spacing" xml:space="preserve">Zebrafish</text>
<path d="M178.40 648.40h6.7M178.40 651.70h6.7" stroke="#4a4a90" stroke-width="0.7" fill="none"/>
<path d="M235.08 648.40h6.7M235.08 651.70h6.7" stroke="#4a4a90" stroke-width="0.7" fill="none"/>
<path d="M291.76 648.40h6.7M291.76 651.70h6.7" stroke="#4a4a90" stroke-width="0.7" fill="none"/>
<path d="M348.44 648.40h6.7M348.44 651.70h6.7" stroke="#4a4a90" stroke-width="0.7" fill="none"/>
<path d="M405.12 648.40h6.7M405.12 651.70h6.7" stroke="#4a4a90" stroke-width="0.7" fill="none"/>
<path d="M461.80 648.40h6.7M461.80 651.70h6.7" stroke="#4a4a90" stroke-width="0.7" fill="none"/>
<path d="M518.48 648.40h6.7M518.48 651.70h6.7" stroke="#4a4a90" stroke-width="0.7" fill="none"/>
<path d="M575.16 648.40h6.7M575.16 651.70h6.7" stroke="#4a4a90" stroke-width="0.7" fill="none"/>
<path d="M631.84 648.40h6.7M631.84 651.70h6.7" stroke="#4a4a90" stroke-width="0.7" fill="none"/>
<path d="M688.52 648.40h6.7M688.52 651.70h6.7" stroke="#4a4a90" stroke-width="0.7" fill="none"/>
<path d="M745.20 648.40h6.7M745.20 651.70h6.7" stroke="#4a4a90" stroke-width="0.7" fill="none"/>
<path d="M801.88 648.40h6.7M801.88 651.70h6.7" stroke="#4a4a90" stroke-width="0.7" fill="none"/>
<path d="M858.56 648.40h6.7M858.56 651.70h6.7" stroke="#4a4a90" stroke-width="0.7" fill="none"/>
<path d="M915.24 648.40h6.7M915.24 651.70h6.7" stroke="#4a4a90" stroke-width="0.7" fill="none"/>
<text transform="translate(440.43,669) scale(1,1.08)" font-size="13" fill="#000" textLength="224.18" lengthAdjust="spacing" xml:space="preserve">Repeating Elements by RepeatMasker</text>
<text transform="translate(67.43,683) scale(1,1.08)" font-size="13" fill="#000" textLength="84.28" lengthAdjust="spacing" xml:space="preserve">RepeatMasker</text>
<rect x="156" y="671" width="793" height="15" fill="#000" shape-rendering="crispEdges"/>
</svg>
</body></html>
